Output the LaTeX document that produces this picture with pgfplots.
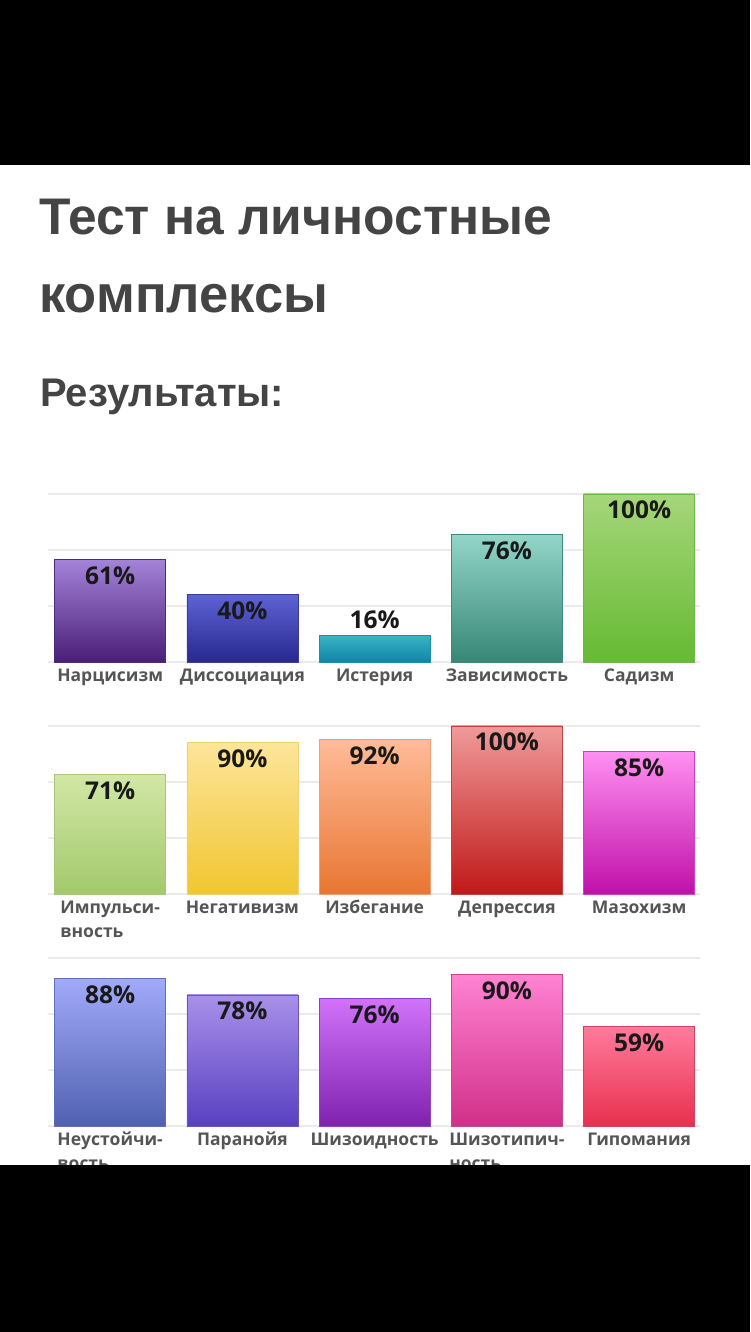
\documentclass[border=0pt]{standalone}
\usepackage{fontspec}
\setmainfont{Liberation Sans}
\newfontfamily\labfont{Open Sans}
\usepackage{pgfplots}
\pgfplotsset{compat=1.18}

\definecolor{titlegray}{HTML}{444444}
\definecolor{labgray}{HTML}{555555}
\definecolor{gridgray}{HTML}{EBEBEB}
% bar gradients: top / bottom / edge
\definecolor{aT}{HTML}{A383D8}\definecolor{aB}{HTML}{4A1E76}\definecolor{aE}{HTML}{4E2A7A}
\definecolor{bT}{HTML}{5D62D4}\definecolor{bB}{HTML}{28288E}\definecolor{bE}{HTML}{3A3AA0}
\definecolor{cT}{HTML}{3CB2C8}\definecolor{cB}{HTML}{0E86A6}\definecolor{cE}{HTML}{1890AA}
\definecolor{dT}{HTML}{93D6C9}\definecolor{dB}{HTML}{378676}\definecolor{dE}{HTML}{3E8A7C}
\definecolor{eT}{HTML}{A6D67A}\definecolor{eB}{HTML}{66BA34}\definecolor{eE}{HTML}{6CB848}
\definecolor{fT}{HTML}{D2E7A6}\definecolor{fB}{HTML}{A3C96C}\definecolor{fE}{HTML}{A8C878}
\definecolor{gT}{HTML}{FDE59A}\definecolor{gB}{HTML}{F0C630}\definecolor{gE}{HTML}{F0D070}
\definecolor{hT}{HTML}{FFBB98}\definecolor{hB}{HTML}{E87632}\definecolor{hE}{HTML}{F0A070}
\definecolor{iT}{HTML}{F09A9A}\definecolor{iB}{HTML}{C01818}\definecolor{iE}{HTML}{C84040}
\definecolor{jT}{HTML}{FF90F2}\definecolor{jB}{HTML}{C010A8}\definecolor{jE}{HTML}{D040C0}
\definecolor{kT}{HTML}{A2AAFA}\definecolor{kB}{HTML}{5060B0}\definecolor{kE}{HTML}{6070B8}
\definecolor{lT}{HTML}{A890EA}\definecolor{lB}{HTML}{5840C0}\definecolor{lE}{HTML}{6A54C4}
\definecolor{mT}{HTML}{D272FA}\definecolor{mB}{HTML}{7E22B0}\definecolor{mE}{HTML}{9040C0}
\definecolor{nT}{HTML}{FF82D2}\definecolor{nB}{HTML}{D03088}\definecolor{nE}{HTML}{C84890}
\definecolor{oT}{HTML}{FF7A9C}\definecolor{oB}{HTML}{E8304E}\definecolor{oE}{HTML}{D84060}

\newcommand{\twoline}[2]{\vtop{\hbox{#1}\hbox{#2}}}

\pgfplotsset{
  row/.style={
    scale only axis, width=652bp, height=168bp,
    anchor=south west,
    xmin=-0.47, xmax=4.46, ymin=0, ymax=100,
    xtick={0,...,4}, ytick={0,33.333,66.667,100},
    ymajorgrids, grid style={gridgray, line width=1.3bp},
    axis line style={draw=none}, tick style={draw=none},
    yticklabels={}, clip=false,
    xticklabel style={font=\labfont\bfseries\fontsize{17.5bp}{24bp}\selectfont,
      text=labgray, anchor=base, inner sep=0pt, yshift=-20bp},
  },
  bar/.style n args={3}{ybar, bar width=111bp, bar shift=0pt,
    top color=#1, bottom color=#2, draw=#3, line width=0.8bp},
  pct/.style={only marks, mark=none, point meta=explicit symbolic,
    nodes near coords={\pgfplotspointmeta\%},
    every node near coord/.append style={font=\labfont\bfseries\fontsize{24.5bp}{28bp}\selectfont,
      text=black!90, inner sep=0pt, anchor=north, yshift=-7bp}},
  pctup/.style={pct, every node near coord/.append style={anchor=south, yshift=13bp}},
}

\begin{document}
\begin{tikzpicture}[x=1bp, y=1bp]
\fill[black] (0,0) rectangle (750,1332);
\fill[white] (0,167) rectangle (750,1167);

\node[anchor=base west, inner sep=0pt, text=titlegray,
  font=\bfseries\fontsize{51.5bp}{58bp}\selectfont] at (39,1097) {Тест на личностные};
\node[anchor=base west, inner sep=0pt, text=titlegray,
  font=\bfseries\fontsize{52.5bp}{58bp}\selectfont] at (39,1019) {комплексы};
\node[anchor=base west, inner sep=0pt, text=titlegray,
  font=\bfseries\fontsize{40bp}{48bp}\selectfont] at (40,925) {Результаты:};

% row 1
\begin{axis}[row, at={(48bp,670bp)},
  xticklabels={Нарцисизм, Диссоциация, Истерия, Зависимость, Садизм}]
\addplot[bar={aT}{aB}{aE}] coordinates {(0,61)};
\addplot[bar={bT}{bB}{bE}] coordinates {(1,40)};
\addplot[bar={cT}{cB}{cE}] coordinates {(2,16)};
\addplot[bar={dT}{dB}{dE}] coordinates {(3,76)};
\addplot[bar={eT}{eB}{eE}] coordinates {(4,100)};
\addplot[pct] coordinates {(0,61) [61] (1,40) [40] (3,76) [76] (4,100) [100]};
\addplot[pctup] coordinates {(2,16) [16]};
\end{axis}

% row 2
\begin{axis}[row, at={(48bp,438bp)},
  xticklabels={\twoline{Импульси-}{вность}, Негативизм, Избегание, Депрессия, Мазохизм}]
\addplot[bar={fT}{fB}{fE}] coordinates {(0,71)};
\addplot[bar={gT}{gB}{gE}] coordinates {(1,90)};
\addplot[bar={hT}{hB}{hE}] coordinates {(2,92)};
\addplot[bar={iT}{iB}{iE}] coordinates {(3,100)};
\addplot[bar={jT}{jB}{jE}] coordinates {(4,85)};
\addplot[pct] coordinates {(0,71) [71] (1,90) [90] (2,92) [92] (3,100) [100] (4,85) [85]};
\end{axis}

% row 3
\begin{axis}[row, at={(48bp,206bp)},
  xticklabels={\twoline{Неустойчи-}{вость}, Паранойя, Шизоидность, \twoline{Шизотипич-}{ность}, Гипомания}]
\addplot[bar={kT}{kB}{kE}] coordinates {(0,88)};
\addplot[bar={lT}{lB}{lE}] coordinates {(1,78)};
\addplot[bar={mT}{mB}{mE}] coordinates {(2,76)};
\addplot[bar={nT}{nB}{nE}] coordinates {(3,90)};
\addplot[bar={oT}{oB}{oE}] coordinates {(4,59)};
\addplot[pct] coordinates {(0,88) [88] (1,78) [78] (2,76) [76] (3,90) [90] (4,59) [59]};
\end{axis}

\fill[black] (0,0) rectangle (750,167);
\end{tikzpicture}
\end{document}
